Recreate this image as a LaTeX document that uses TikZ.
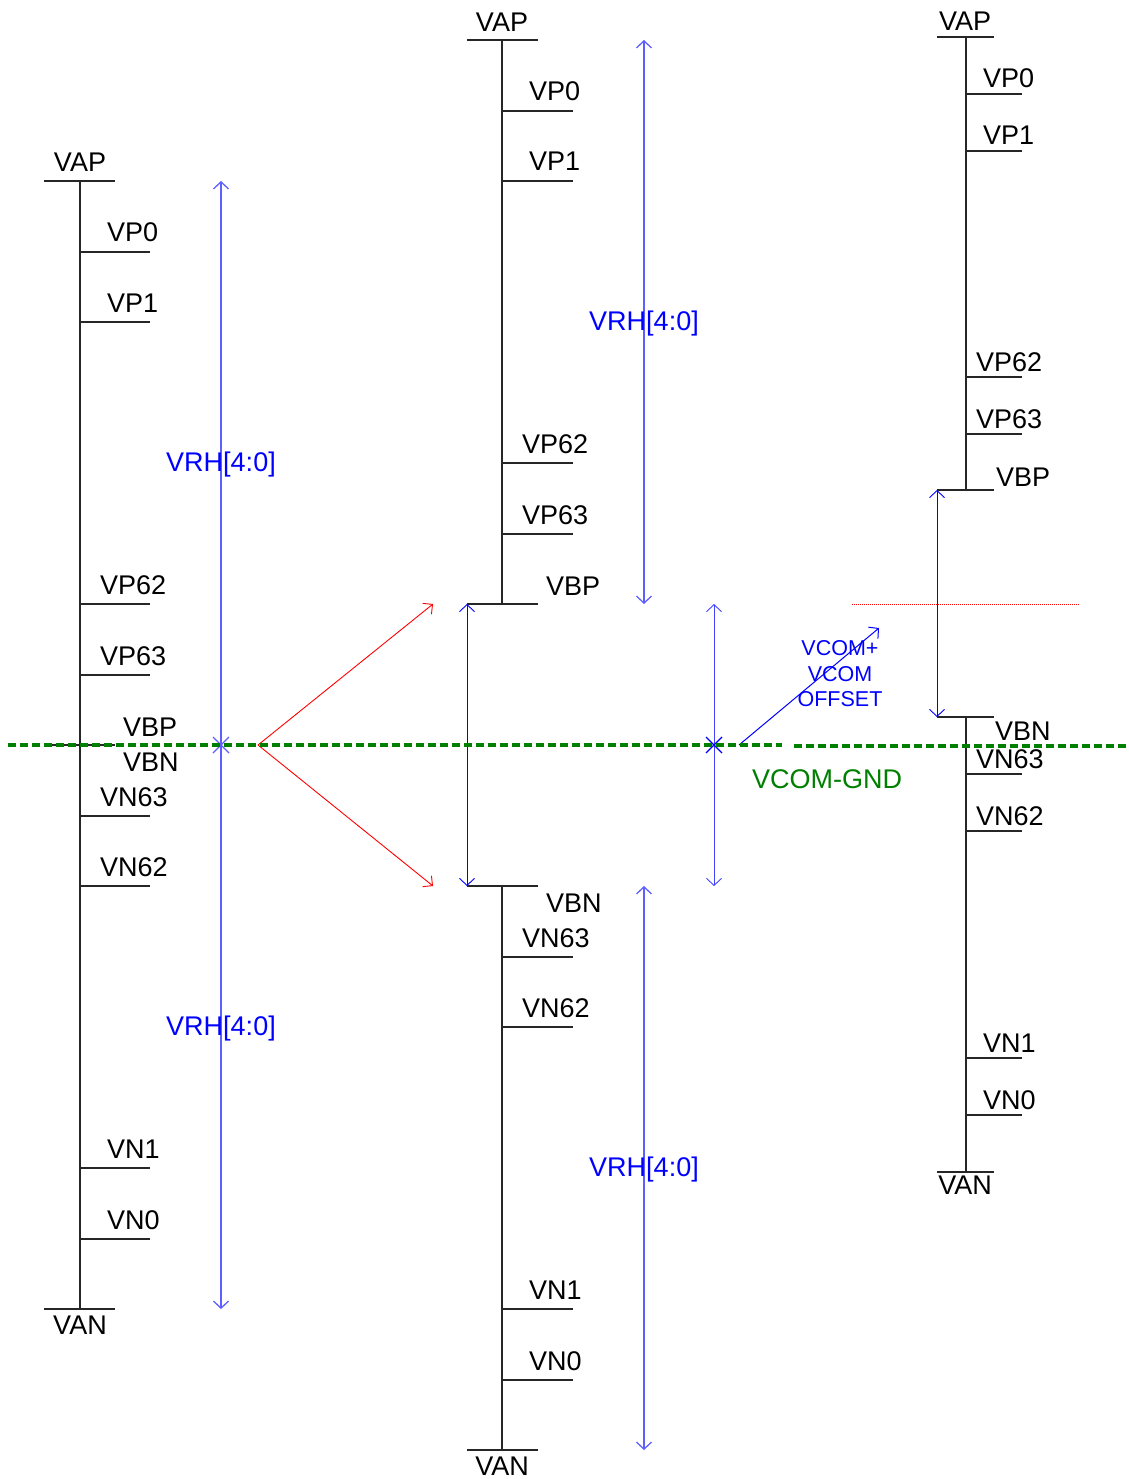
\documentclass[tikz,border=0pt]{standalone}
\usepackage{fontspec}
\setmainfont{Liberation Sans}
\usetikzlibrary{arrows.meta}
\definecolor{lblue}{RGB}{95,95,255}
\definecolor{pblue}{RGB}{0,0,255}
\definecolor{dgreen}{RGB}{0,128,0}
\begin{document}
\begin{tikzpicture}[x=1pt,y=-1pt,
  rail/.style={line width=1.4pt,black!85},
  lbl/.style={font=\fontsize{27}{31}\selectfont,inner sep=0pt,anchor=base west},
  clbl/.style={font=\fontsize{27}{31}\selectfont,inner sep=0pt,anchor=base},
  bluelbl/.style={font=\fontsize{27}{31}\selectfont,inner sep=0pt,anchor=base,text=pblue},
  smalllbl/.style={font=\fontsize{21.5}{25}\selectfont,inner sep=0pt,anchor=base,text=pblue},
  vrh/.style={lblue,line width=1.3pt,{Straight Barb[length=7pt,width=15pt]}-{Straight Barb[length=7pt,width=15pt]}},
  barrow/.style={pblue,line width=0.9pt,{Straight Barb[length=7pt,width=15pt]}-{Straight Barb[length=7pt,width=15pt]}},
  redarrow/.style={red,line width=0.9pt,-{Straight Barb[length=7pt,width=14pt]}},
  gdash/.style={dgreen,line width=3.3pt,dash pattern=on 8pt off 4pt},
  crossmark/.style={line width=1.2pt}
]
\useasboundingbox (0,0) rectangle (1128,1479);

% ---------------- Left column ----------------
\coordinate (L-top) at (80,181);
\coordinate (L-bot) at (80,1309);
\coordinate (L-mid) at (80,745);
\draw[rail] (L-top) -- (L-bot);
\draw[rail] (L-top) ++(-36,0) -- ++(71,0);
\draw[rail] (L-bot) ++(-36,0) -- ++(71,0);
\draw[rail] (L-mid) ++(-36,0) -- ++(71,0);
\node[clbl] (L-VAP) at (80,172) {VAP};
\node[clbl] (L-VAN) at (80,1334) {VAN};
\foreach \n/\y/\lx in {VP0/252/107, VP1/322/107, VP62/604/100, VP63/675/100,
                       VN63/816/100, VN62/886/100, VN1/1168/107, VN0/1239/107} {
  \coordinate (L-\n) at (80,\y);
  \draw[rail] (L-\n) -- ++(70,0);
  \node[lbl] (L-\n-t) at (\lx,\y-10) {\n};
}
\node[lbl] (L-VBP) at (123,736) {VBP};
\node[lbl] (L-VBN) at (123,771) {VBN};

% ---------------- Middle column ----------------
\coordinate (M-top) at (502,40);
\coordinate (M-bp) at (502,604);
\coordinate (M-bn) at (502,886);
\coordinate (M-bot) at (502,1450);
\draw[rail] (M-top) -- (M-bp);
\draw[rail] (M-bn) -- (M-bot);
\draw[rail] (M-top) ++(-35,0) -- ++(71,0);
\draw[rail] (M-bot) ++(-35,0) -- ++(71,0);
\draw[rail] (M-bp) ++(-35,0) -- ++(71,0);
\draw[rail] (M-bn) ++(-35,0) -- ++(71,0);
\node[clbl] (M-VAP) at (502,32) {VAP};
\node[clbl] (M-VAN) at (502,1475) {VAN};
\foreach \n/\y/\lx in {VP0/111/529, VP1/181/529, VP62/463/522, VP63/534/522,
                       VN63/957/522, VN62/1027/522, VN1/1309/529, VN0/1380/529} {
  \coordinate (M-\n) at (502,\y);
  \draw[rail] (M-\n) -- ++(71,0);
  \node[lbl] (M-\n-t) at (\lx,\y-10) {\n};
}
\node[lbl] (M-VBP) at (546,595) {VBP};
\node[lbl] (M-VBN) at (546,912) {VBN};

% ---------------- Right column ----------------
\coordinate (R-top) at (966,37);
\coordinate (R-bp) at (966,490);
\coordinate (R-bn) at (966,717);
\coordinate (R-bot) at (966,1172);
\draw[rail] (R-top) -- (R-bp);
\draw[rail] (R-bn) -- (R-bot);
\draw[rail] (R-top) ++(-29,0) -- ++(57,0);
\draw[rail] (R-bot) ++(-29,0) -- ++(57,0);
\draw[rail] (R-bp) ++(-29,0) -- ++(57,0);
\draw[rail] (R-bn) ++(-29,0) -- ++(57,0);
\node[clbl] (R-VAP) at (965,31) {VAP};
\node[clbl] (R-VAN) at (965,1194) {VAN};
\foreach \n/\y/\lx in {VP0/94/983, VP1/151/983, VP62/377/976, VP63/434/976,
                       VN63/774/976, VN62/831/976, VN1/1058/983, VN0/1115/983} {
  \coordinate (R-\n) at (966,\y);
  \draw[rail] (R-\n) -- ++(56,0);
  \node[lbl] (R-\n-t) at (\lx,\y-6) {\n};
}
\node[lbl] (R-VBP) at (996,486) {VBP};
\node[lbl] (R-VBN) at (995,740) {VBN};

% ---------------- Blue range arrows ----------------
\coordinate (A1t) at (221,181);
\coordinate (A1b) at (221,1309);
\coordinate (A1m) at (221,745);
\draw[vrh] (A1t) -- (A1b);
\draw[lblue,crossmark] (A1m) +(-8,-8) -- +(8,8) +(-8,8) -- +(8,-8);
\node[bluelbl] (VRH1) at (221,471) {VRH[4:0]};
\node[bluelbl] (VRH2) at (221,1035) {VRH[4:0]};

\coordinate (A2t) at (644,40);
\coordinate (A2b) at (644,604);
\draw[vrh] (A2t) -- (A2b);
\node[bluelbl] (VRH3) at (644,330) {VRH[4:0]};
\coordinate (A3t) at (644,886);
\coordinate (A3b) at (644,1450);
\draw[vrh] (A3t) -- (A3b);
\node[bluelbl] (VRH4) at (644,1176) {VRH[4:0]};

\coordinate (A4t) at (467,604);
\coordinate (A4b) at (467,886);
\draw[barrow] (A4t) -- (A4b);

\coordinate (A5t) at (714,604);
\coordinate (A5b) at (714,886);
\coordinate (A5m) at (714,745);
\draw[barrow,draw=lblue!70!pblue] (A5t) -- (A5b);
\draw[pblue,crossmark] (A5m) +(-8,-8) -- +(8,8) +(-8,8) -- +(8,-8);

\coordinate (A6t) at (937,490);
\coordinate (A6b) at (937,717);
\draw[barrow] (A6t) -- (A6b);

\coordinate (D0) at (739,745);
\coordinate (D1) at (879,628);
\draw[pblue,line width=1pt,-{Straight Barb[length=7pt,width=15pt]}] (D0) -- (D1);
\node[smalllbl] (VC1) at (840,655) {VCOM+};
\node[smalllbl] (VC2) at (840,681) {VCOM};
\node[smalllbl] (VC3) at (840,706) {OFFSET};

% ---------------- Red arrows ----------------
\coordinate (R0) at (258,745);
\coordinate (R1) at (433,604);
\coordinate (R2) at (433,886);
\draw[redarrow] (R0) -- (R1);
\draw[redarrow] (R0) -- (R2);
\coordinate (RD0) at (852,604);
\coordinate (RD1) at (1080,604);
\draw[red,line width=0.8pt,dash pattern=on 1pt off 1pt] (RD0) -- (RD1);

% ---------------- Green VCOM line ----------------
\coordinate (G0) at (8,745);
\coordinate (G1) at (782,745);
\coordinate (G2) at (794,746);
\coordinate (G3) at (1128,746);
\draw[gdash] (G0) -- (G1);
\draw[gdash] (G2) -- (G3);
\node[font=\fontsize{27}{31}\selectfont,inner sep=0pt,anchor=base,text=dgreen] (VG) at (827,788) {VCOM-GND};
\end{tikzpicture}
\end{document}
